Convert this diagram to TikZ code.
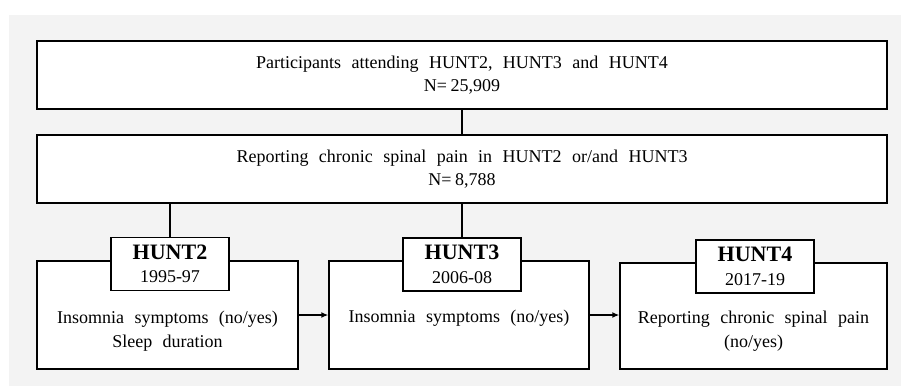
\documentclass[tikz,border=0pt]{standalone}
\usepackage{fontspec}
\setmainfont{Liberation Serif}
\usetikzlibrary{arrows.meta,positioning}
\definecolor{panelgray}{HTML}{F3F3F3}

\tikzset{
  box/.style={draw, line width=1.4pt, fill=white, inner sep=0pt},
  txt/.style={align=center, inner sep=0pt,
    font=\fontsize{18}{23.5}\selectfont,
    execute at begin node={\spaceskip=0.58em\relax}},
  wave/.style={box, txt, minimum width=118pt, minimum height=53pt},
  link/.style={line width=1.4pt},
  flow/.style={line width=1.4pt, -{Latex[length=7pt,width=6pt]}}
}
\newcommand{\wavename}[1]{{\fontsize{22}{24}\selectfont\bfseries #1}}
\newcommand{\Neq}{N=\hspace{0.2em}}

\begin{document}
\begin{tikzpicture}[x=1pt, y=-1pt]
  \useasboundingbox (0,0) rectangle (901,386);
  \fill[panelgray] (9,15) rectangle (901,386);

  % study population
  \node[box, txt, minimum width=850pt, minimum height=68pt] (all) at (462,75)
    {Participants attending HUNT2, HUNT3 and HUNT4\\\Neq25,909};
  \node[box, txt, minimum width=850pt, minimum height=68pt] (pain) at (462,169)
    {Reporting chronic spinal pain in HUNT2 or/and HUNT3\\\Neq8,788};

  % survey boxes
  \node[box, minimum width=261pt, minimum height=108pt] (hunt2) at (167.5,315) {};
  \node[box, minimum width=260pt, minimum height=108pt] (hunt3) at (459,315) {};
  \node[box, minimum width=267pt, minimum height=106pt] (hunt4) at (753.5,316) {};

  \node[wave] (wave2) at (170,264) {\wavename{HUNT2}\\1995-97};
  \node[wave] (wave3) at (462,264.5) {\wavename{HUNT3}\\2006-08};
  \node[wave] (wave4) at (755,266.5) {\wavename{HUNT4}\\2017-19};

  \node[txt] (text2) at (167.5,331) {Insomnia symptoms (no/yes)\\Sleep duration};
  \node[txt] (text3) at (459,318) {Insomnia symptoms (no/yes)};
  \node[txt] (text4) at (753.5,331) {Reporting chronic spinal pain\\(no/yes)};

  \draw[link] (all.south) -- (pain.north);
  \draw[link] (wave2.north |- pain.south) -- (wave2.north);
  \draw[link] (wave3.north |- pain.south) -- (wave3.north);

  \draw[flow] (hunt2.east) -- (hunt3.west);
  \draw[flow] (hunt3.east) -- (hunt3.east -| hunt4.west);
\end{tikzpicture}
\end{document}
